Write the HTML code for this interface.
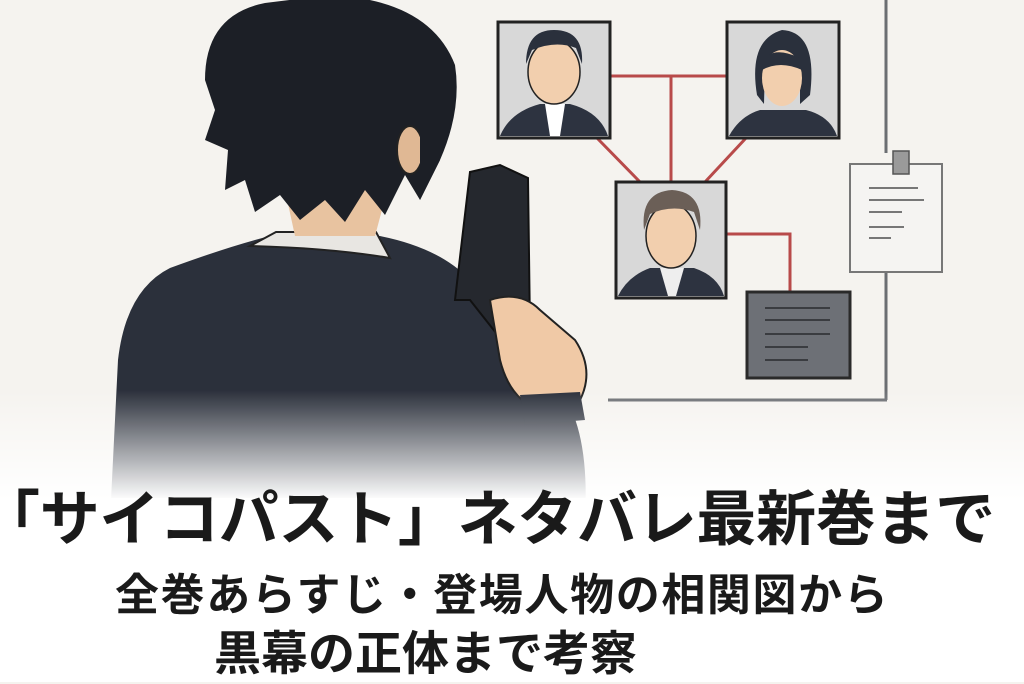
<!DOCTYPE html>
<html><head><meta charset="utf-8"><style>
html,body{margin:0;padding:0}
body{width:1024px;height:682px;overflow:hidden;position:relative;background:#f5f3ef;font-family:"Liberation Sans","Noto Sans CJK JP",sans-serif}
svg{position:absolute;left:0;top:0}
.t{position:absolute;white-space:nowrap;font-weight:bold;color:#1a1a1a;font-family:"Liberation Sans","Noto Sans CJK JP",sans-serif}
</style></head><body>
<svg width="1024" height="682" viewBox="0 0 1024 682">
<defs>
<linearGradient id="fade" x1="0" y1="0" x2="0" y2="1">
<stop offset="0" stop-color="#fff" stop-opacity="0"/>
<stop offset="1" stop-color="#fff" stop-opacity="1"/>
</linearGradient>
</defs>
<g stroke="#6b6e72" stroke-width="3" fill="none">
<line x1="886" y1="0" x2="886" y2="153"/>
<line x1="886" y1="273" x2="886" y2="400"/>
<line x1="608" y1="400" x2="887" y2="400"/>
</g>
<g stroke="#b84a4a" stroke-width="3" fill="none">
<line x1="610" y1="76" x2="727" y2="76"/>
<line x1="671" y1="76" x2="671" y2="182"/>
<line x1="597" y1="138" x2="640" y2="182"/>
<line x1="746" y1="138" x2="705" y2="182"/>
<polyline points="726,234 790,234 790,292"/>
</g>
<g stroke="#222" stroke-width="3">
<rect x="498" y="22" width="112" height="116" fill="#d8d8d8"/>
<rect x="727" y="22" width="112" height="116" fill="#d8d8d8"/>
<rect x="616" y="182" width="110" height="116" fill="#d8d8d8"/>
</g>
<g>
<path d="M500 136 Q510 112 540 104 L570 104 Q600 112 608 136Z" fill="#2d3340"/>
<path d="M545 104 L565 104 L560 136 L550 136Z" fill="#fff"/>
<ellipse cx="554" cy="72" rx="26" ry="32" fill="#f2cfae" stroke="#222" stroke-width="1.5"/>
<path d="M526 64 Q526 30 554 30 Q584 30 582 64 L576 48 Q556 40 532 50Z" fill="#2a303c"/>
<path d="M729 136 Q740 116 760 110 L806 110 Q830 116 837 136Z" fill="#2d3340"/>
<path d="M757 95 Q748 40 782 30 Q818 32 810 95 L800 104 L800 60 Q780 50 765 62 L764 104Z" fill="#2a303c"/>
<ellipse cx="782" cy="78" rx="20" ry="28" fill="#f2cfae"/>
<path d="M762 64 Q770 44 800 58 L802 70 Q780 60 762 70Z" fill="#2a303c"/>
<path d="M618 296 Q628 276 650 268 L694 268 Q718 276 724 296Z" fill="#2d3340"/>
<path d="M660 268 L684 268 L676 296 L668 296Z" fill="#eee"/>
<ellipse cx="671" cy="236" rx="25" ry="32" fill="#f2cfae" stroke="#222" stroke-width="1.5"/>
<path d="M644 230 Q640 192 672 190 Q704 192 700 230 L694 212 Q672 204 650 214Z" fill="#6b5f57"/>
</g>
<rect x="850" y="164" width="92" height="108" fill="#f5f4f2" stroke="#777" stroke-width="2"/>
<rect x="893" y="151" width="16" height="23" fill="#9a9a9a" stroke="#555" stroke-width="1.5"/>
<g stroke="#777" stroke-width="2">
<line x1="869" y1="188" x2="918" y2="188"/><line x1="869" y1="200" x2="924" y2="200"/>
<line x1="869" y1="212" x2="902" y2="212"/><line x1="869" y1="227" x2="904" y2="227"/>
<line x1="869" y1="238" x2="891" y2="238"/>
</g>
<rect x="747" y="292" width="103" height="86" fill="#6d7076" stroke="#2a2a2a" stroke-width="3"/>
<g stroke="#3a3c40" stroke-width="2">
<line x1="765" y1="308" x2="830" y2="308"/><line x1="765" y1="320" x2="830" y2="320"/>
<line x1="765" y1="334" x2="830" y2="334"/><line x1="765" y1="347" x2="808" y2="347"/>
<line x1="765" y1="360" x2="808" y2="360"/>
</g>
<path d="M110 520 L118 360 Q126 290 170 268 Q230 246 270 236 L380 236 Q440 248 470 280 Q520 330 560 390 Q590 430 585 520Z" fill="#2b303b"/>
<path d="M250 246 L276 232 L376 232 L390 258 Q330 248 250 246Z" fill="#e8e6e2" stroke="#222" stroke-width="2"/>
<path d="M285 190 L295 236 L375 236 L390 180Z" fill="#e8c3a0"/>
<path d="M205 80 Q205 15 265 3 L330 -5 Q430 0 455 65 Q462 110 440 160 L420 200 L405 175 L385 215 L365 190 L345 222 L325 200 L300 220 L280 195 L255 212 L245 180 L225 190 L228 150 L205 140 L215 110Z" fill="#1c1f26"/>
<ellipse cx="410" cy="150" rx="13" ry="24" fill="#e0b894" stroke="#222" stroke-width="2"/>
<path d="M420 130 L440 160 L420 200Z" fill="#1c1f26"/>
<path d="M470 172 L500 165 L528 178 L530 330 L500 338 L470 300 L455 300 L462 240Z" fill="#25282e" stroke="#111" stroke-width="2"/>
<path d="M490 300 Q520 290 540 310 L575 340 Q595 370 580 400 L540 410 Q510 400 500 360Z" fill="#f0c9a6" stroke="#222" stroke-width="2"/>
<path d="M520 395 L580 392 L585 420 L525 425Z" fill="#2b303b"/>
<rect x="0" y="390" width="1024" height="110" fill="url(#fade)"/>
<rect x="0" y="498" width="1024" height="184" fill="#fff"/>
</svg>
<div class="t" style="left:-20px;top:480px;font-size:60px;letter-spacing:-0.3px;line-height:80px">「サイコパスト」ネタバレ最新巻まで</div>
<div class="t" style="left:115px;top:568px;font-size:44px;letter-spacing:1.6px;line-height:56px">全巻あらすじ・登場人物の相関図から</div>
<div class="t" style="left:214px;top:624px;font-size:47px;line-height:60px">黒幕の正体まで考察</div>
</body></html>
